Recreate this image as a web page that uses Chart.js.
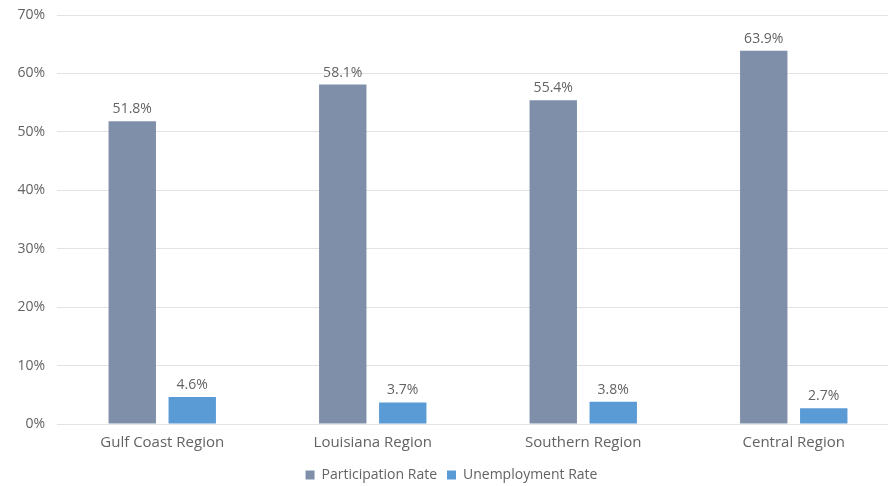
<!DOCTYPE html>
<html>
<head>
<meta charset="utf-8">
<script src="https://cdn.jsdelivr.net/npm/chart.js@4"></script>
<style>
  html, body { margin: 0; padding: 0; background: #fff; overflow: hidden; }
  #wrap { width: 899px; height: 492px; }
</style>
</head>
<body>
<div id="wrap"><canvas id="chart"></canvas></div>
<script>
const regions = ['Gulf Coast Region', 'Louisiana Region', 'Southern Region', 'Central Region'];
const participationRate = [51.8, 58.1, 55.4, 63.9];
const unemploymentRate = [4.6, 3.7, 3.8, 2.7];
const seriesNames = ['Participation Rate', 'Unemployment Rate'];

const textColor = '#636363';
const fontFamily = '"Open Sans", Lato, sans-serif';

// draw the value above each bar
const barLabels = {
  id: 'barLabels',
  afterDatasetsDraw(chart) {
    const ctx = chart.ctx;
    ctx.save();
    ctx.fillStyle = textColor;
    ctx.font = '14px ' + fontFamily;
    ctx.textAlign = 'center';
    ctx.textBaseline = 'bottom';
    chart.data.datasets.forEach((ds, i) => {
      chart.getDatasetMeta(i).data.forEach((bar, j) => {
        ctx.fillText(ds.data[j].toFixed(1) + '%', bar.x, bar.y - 5);
      });
    });
    ctx.restore();
  }
};

new Chart(document.getElementById('chart').getContext('2d'), {
  type: 'bar',
  data: {
    labels: regions,
    datasets: [
      { label: seriesNames[0], data: participationRate, backgroundColor: '#7f8fa9' },
      { label: seriesNames[1], data: unemploymentRate, backgroundColor: '#5b9bd5' }
    ]
  },
  options: {
    responsive: true,
    maintainAspectRatio: false,
    animation: false,
    categoryPercentage: 0.57,
    barPercentage: 0.79,
    layout: { padding: { top: 0, right: 0, left: 4, bottom: 0 } },
    plugins: {
      legend: {
        position: 'bottom',
        labels: {
          color: textColor,
          font: { family: fontFamily, size: 14 },
          boxWidth: 9,
          boxHeight: 9,
          padding: 10
        }
      },
      tooltip: { enabled: false }
    },
    scales: {
      x: {
        grid: { display: false },
        border: { display: false },
        afterFit: scale => { scale.height += 4; },
        ticks: { color: textColor, font: { family: fontFamily, size: 15 }, padding: 2 }
      },
      y: {
        min: 0,
        max: 70,
        afterFit: scale => {
          scale.width = 53;
          scale.paddingTop = 15;
          scale.paddingBottom = 0;
        },
        ticks: {
          stepSize: 10,
          color: textColor,
          font: { family: fontFamily, size: 14 },
          padding: 12,
          callback: v => v + '%'
        },
        grid: { color: '#e3e3e3', drawTicks: false },
        border: { display: false }
      }
    }
  },
  plugins: [barLabels]
});
</script>
</body>
</html>
